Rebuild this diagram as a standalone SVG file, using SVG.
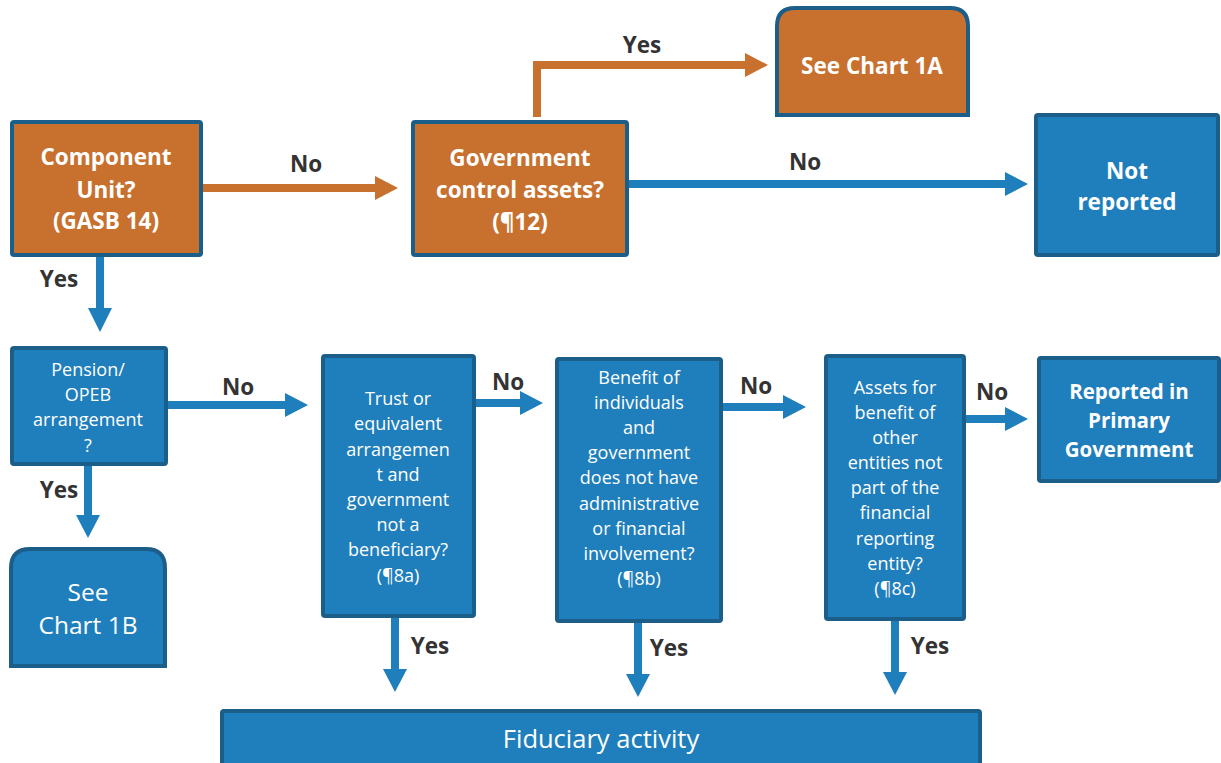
<svg xmlns="http://www.w3.org/2000/svg" width="1221" height="763" viewBox="0 0 1221 763">
  <style>
    .orange { fill: #C8702E; stroke: #1B5E8A; stroke-width: 4; }
    .blue { fill: #1F7EBC; stroke: #1B5E8A; stroke-width: 4; }
    .t { font-family: "Open Sans", Lato, sans-serif; fill: #ffffff; text-anchor: middle; }
    .tb { font-weight: bold; font-size: 22.5px; }
    .tr { font-size: 18px; }
    .lbl { font-family: "Open Sans", Lato, sans-serif; font-weight: bold; font-size: 22.5px; fill: #333333; text-anchor: middle; }
    .lo { fill: none; stroke: #C8702E; stroke-width: 8; }
    .lb { fill: none; stroke: #1F7EBC; stroke-width: 8; }
    .ho { fill: #C8702E; }
    .hb { fill: #1F7EBC; }
  </style>

  <!-- connectors -->
  <g id="connectors">
    <!-- Component Unit -> Government control (No) -->
    <line class="lo" x1="201" y1="188" x2="378" y2="188"/>
    <polygon class="ho" points="375,176 398,188 375,200"/>
    <text class="lbl" x="306" y="172">No</text>

    <!-- Government control -> See Chart 1A (Yes) -->
    <polyline class="lo" points="537,117 537,65 748,65"/>
    <polygon class="ho" points="745,53 768,65 745,77"/>
    <text class="lbl" x="642" y="53">Yes</text>

    <!-- Government control -> Not reported (No) -->
    <line class="lb" x1="628" y1="184" x2="1008" y2="184"/>
    <polygon class="hb" points="1005,172 1028,184 1005,196"/>
    <text class="lbl" x="805" y="170">No</text>

    <!-- Component Unit -> Pension (Yes) -->
    <line class="lb" x1="100" y1="257" x2="100" y2="311"/>
    <polygon class="hb" points="88,308 100,332 112,308"/>
    <text class="lbl" x="59" y="287">Yes</text>

    <!-- Pension -> Trust (No) -->
    <line class="lb" x1="167" y1="405" x2="288" y2="405"/>
    <polygon class="hb" points="285,393 308,405 285,417"/>
    <text class="lbl" x="238" y="395">No</text>

    <!-- Pension -> See Chart 1B (Yes) -->
    <line class="lb" x1="88" y1="465" x2="88" y2="518"/>
    <polygon class="hb" points="76,515 88,538 100,515"/>
    <text class="lbl" x="59" y="498">Yes</text>

    <!-- Trust -> Benefit (No) -->
    <line class="lb" x1="475" y1="403" x2="523" y2="403"/>
    <polygon class="hb" points="520,391 543,403 520,415"/>
    <text class="lbl" x="508" y="390">No</text>

    <!-- Benefit -> Assets (No) -->
    <line class="lb" x1="722" y1="407" x2="786" y2="407"/>
    <polygon class="hb" points="783,395 806,407 783,419"/>
    <text class="lbl" x="756" y="394">No</text>

    <!-- Assets -> Reported in Primary Government (No) -->
    <line class="lb" x1="965" y1="419" x2="1008" y2="419"/>
    <polygon class="hb" points="1005,407 1028,419 1005,431"/>
    <text class="lbl" x="992" y="400">No</text>

    <!-- Yes arrows into Fiduciary activity -->
    <line class="lb" x1="395" y1="617" x2="395" y2="672"/>
    <polygon class="hb" points="383,669 395,692 407,669"/>
    <text class="lbl" x="430" y="654">Yes</text>

    <line class="lb" x1="638" y1="622" x2="638" y2="677"/>
    <polygon class="hb" points="626,674 638,697 650,674"/>
    <text class="lbl" x="669" y="656">Yes</text>

    <line class="lb" x1="895" y1="620" x2="895" y2="675"/>
    <polygon class="hb" points="883,672 895,695 907,672"/>
    <text class="lbl" x="930" y="654">Yes</text>
  </g>

  <!-- nodes -->
  <g id="component-unit">
    <rect class="orange" x="12" y="122" width="189" height="133" rx="2"/>
    <text class="t tb" x="106" y="165">Component</text>
    <text class="t tb" x="106" y="198">Unit?</text>
    <text class="t tb" x="106" y="229">(GASB 14)</text>
  </g>

  <g id="government-control">
    <rect class="orange" x="413" y="122" width="214" height="133" rx="2"/>
    <text class="t tb" x="520" y="166">Government</text>
    <text class="t tb" x="520" y="198">control assets?</text>
    <text class="t tb" x="520" y="230">(¶12)</text>
  </g>

  <g id="see-chart-1a">
    <path class="orange" d="M777,115 L777,26 Q777,8 795,8 L950,8 Q968,8 968,26 L968,115 Z"/>
    <text class="t tb" x="872" y="74">See Chart 1A</text>
  </g>

  <g id="not-reported">
    <rect class="blue" x="1036" y="115" width="182" height="140" rx="2"/>
    <text class="t tb" x="1127" y="179">Not</text>
    <text class="t tb" x="1127" y="210">reported</text>
  </g>

  <g id="pension">
    <rect class="blue" x="12" y="348" width="154" height="116" rx="2"/>
    <text class="t tr" x="88" y="376">Pension/</text>
    <text class="t tr" x="88" y="401">OPEB</text>
    <text class="t tr" x="88" y="426">arrangement</text>
    <text class="t tr" x="88" y="452">?</text>
  </g>

  <g id="see-chart-1b">
    <path class="blue" d="M11,666 L11,568 Q11,549 30,549 L146,549 Q165,549 165,568 L165,666 Z"/>
    <text class="t" x="88" y="601" font-size="24.5">See</text>
    <text class="t" x="88" y="634" font-size="24.5">Chart 1B</text>
  </g>

  <g id="trust">
    <rect class="blue" x="323" y="356" width="151" height="260" rx="2"/>
    <text class="t tr" x="398" y="405">Trust or</text>
    <text class="t tr" x="398" y="430">equivalent</text>
    <text class="t tr" x="398" y="456">arrangemen</text>
    <text class="t tr" x="398" y="481">t and</text>
    <text class="t tr" x="398" y="506">government</text>
    <text class="t tr" x="398" y="531">not a</text>
    <text class="t tr" x="398" y="556">beneficiary?</text>
    <text class="t tr" x="398" y="582">(¶8a)</text>
  </g>

  <g id="benefit-of-individuals">
    <rect class="blue" x="557" y="359" width="164" height="262" rx="2"/>
    <text class="t tr" x="639" y="384">Benefit of</text>
    <text class="t tr" x="639" y="409">individuals</text>
    <text class="t tr" x="639" y="434">and</text>
    <text class="t tr" x="639" y="459">government</text>
    <text class="t tr" x="639" y="484">does not have</text>
    <text class="t tr" x="639" y="510">administrative</text>
    <text class="t tr" x="639" y="535">or financial</text>
    <text class="t tr" x="639" y="560">involvement?</text>
    <text class="t tr" x="639" y="585">(¶8b)</text>
  </g>

  <g id="assets-for-other-entities">
    <rect class="blue" x="826" y="356" width="138" height="263" rx="2"/>
    <text class="t tr" x="895" y="394">Assets for</text>
    <text class="t tr" x="895" y="419">benefit of</text>
    <text class="t tr" x="895" y="444">other</text>
    <text class="t tr" x="895" y="469">entities not</text>
    <text class="t tr" x="895" y="494">part of the</text>
    <text class="t tr" x="895" y="519">financial</text>
    <text class="t tr" x="895" y="545">reporting</text>
    <text class="t tr" x="895" y="570">entity?</text>
    <text class="t tr" x="895" y="595">(¶8c)</text>
  </g>

  <g id="reported-in-primary-government">
    <rect class="blue" x="1039" y="358" width="180" height="123" rx="2"/>
    <text class="t" x="1129" y="399" font-weight="bold" font-size="20.5">Reported in</text>
    <text class="t" x="1129" y="428" font-weight="bold" font-size="20.5">Primary</text>
    <text class="t" x="1129" y="457" font-weight="bold" font-size="20.5">Government</text>
  </g>

  <g id="fiduciary-activity">
    <rect class="blue" x="222" y="711" width="758" height="54" rx="2"/>
    <text class="t" x="601" y="748" font-size="25.5">Fiduciary activity</text>
  </g>
</svg>
